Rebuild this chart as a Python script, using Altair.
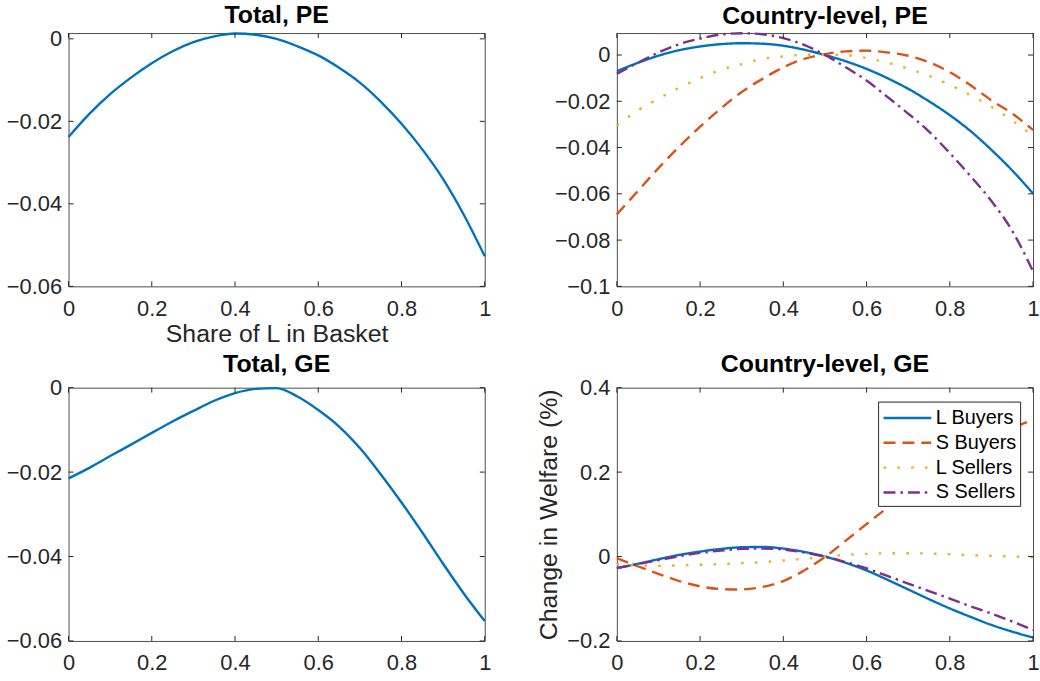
import altair as alt
import pandas as pd

# ---------------- data ----------------
x_share = [0.0, 0.05, 0.1, 0.15, 0.2, 0.25, 0.3, 0.35, 0.4, 0.45, 0.5,
           0.55, 0.6, 0.65, 0.7, 0.75, 0.8, 0.85, 0.9, 0.95, 1.0]

total_pe = [-0.0238, -0.0182, -0.0134, -0.0094, -0.0059, -0.0030, -0.0008, 0.0006, 0.0013, 0.0010, 0.0000,
            -0.0018, -0.0040, -0.0070, -0.0106, -0.0152, -0.0206, -0.0268, -0.0340, -0.0427, -0.0527]

total_ge = [-0.0215, -0.0190, -0.0162, -0.0135, -0.0107, -0.0080, -0.0055, -0.0031, -0.0013, -0.0003, -0.0001,
            -0.0021, -0.0053, -0.0092, -0.0143, -0.0205, -0.0272, -0.0343, -0.0417, -0.0488, -0.0553]

series_names = ["L Buyers", "S Buyers", "L Sellers", "S Sellers"]

pe_l_buyers = [-0.0070, -0.0034, -0.0003, 0.0021, 0.0037, 0.0047, 0.0051, 0.0049, 0.0040, 0.0023, 0.0000,
               -0.0027, -0.0060, -0.0100, -0.0146, -0.0200, -0.0260, -0.0329, -0.0410, -0.0499, -0.0599]
pe_s_buyers = [-0.0689, -0.0589, -0.0489, -0.0396, -0.0310, -0.0231, -0.0160, -0.0103, -0.0053, -0.0017, 0.0004,
               0.0016, 0.0019, 0.0011, -0.0003, -0.0031, -0.0074, -0.0131, -0.0196, -0.0253, -0.0324]
pe_l_sellers = [-0.0305, -0.0240, -0.0189, -0.0141, -0.0100, -0.0064, -0.0039, -0.0017, -0.0006, 0.0001, 0.0001,
                -0.0001, -0.0013, -0.0033, -0.0059, -0.0090, -0.0129, -0.0174, -0.0224, -0.0283, -0.0350]
pe_s_sellers = [-0.0081, -0.0034, 0.0011, 0.0047, 0.0071, 0.0089, 0.0094, 0.0090, 0.0073, 0.0044, 0.0000,
                -0.0053, -0.0110, -0.0181, -0.0253, -0.0331, -0.0424, -0.0524, -0.0631, -0.0760, -0.0935]

ge_l_buyers = [-0.0274, -0.0173, -0.0063, 0.0039, 0.0118, 0.0180, 0.0220, 0.0227, 0.0188, 0.0110, 0.0000,
               -0.0149, -0.0330, -0.0550, -0.0780, -0.1010, -0.1230, -0.1430, -0.1620, -0.1780, -0.1920]
ge_s_buyers = [-0.0040, -0.0230, -0.0410, -0.0580, -0.0706, -0.0770, -0.0780, -0.0720, -0.0580, -0.0330, -0.0010,
               0.0376, 0.0770, 0.1160, 0.1570, 0.1950, 0.2300, 0.2600, 0.2850, 0.3050, 0.3240]
ge_l_sellers = [-0.0190, -0.0210, -0.0220, -0.0210, -0.0196, -0.0180, -0.0157, -0.0133, -0.0094, -0.0055, 0.0000,
                0.0039, 0.0063, 0.0078, 0.0078, 0.0070, 0.0055, 0.0031, 0.0016, 0.0000, -0.0016]
ge_s_sellers = [-0.0274, -0.0180, -0.0086, 0.0008, 0.0086, 0.0140, 0.0180, 0.0188, 0.0165, 0.0094, 0.0000,
                -0.0133, -0.0280, -0.0460, -0.0640, -0.0820, -0.0996, -0.1180, -0.1350, -0.1540, -0.1740]

x_ticks = [0, 0.2, 0.4, 0.6, 0.8, 1]
y_ticks_total = [-0.06, -0.04, -0.02, 0]
y_ticks_pe = [-0.1, -0.08, -0.06, -0.04, -0.02, 0]
y_ticks_ge = [-0.2, 0, 0.2, 0.4]

# ---------------- style ----------------
FONT = "Liberation Sans"
W, H = 419, 255
TICK_LEN = 5
AX_COLOR = "#262626"
BOX_COLOR = "#4d4d4d"
colors = ["#0072BD", "#D95319", "#EDB120", "#7E2F8E"]
dashes = [[1, 0], [12, 7], [2.6, 11.3], [12, 5, 2.5, 5]]
widths = [2.4, 2.4, 3, 2.4]
LABEL_FMT = "~g"


def single_df(vals):
    return pd.DataFrame({"x": x_share, "y": vals})


def multi_df(lists):
    rows = []
    for name, vals in zip(series_names, lists):
        for xv, yv in zip(x_share, vals):
            rows.append({"x": xv, "y": yv, "series": name})
    return pd.DataFrame(rows)


def make_axis(values, title, label_pad, title_pad):
    return alt.Axis(values=values, format=LABEL_FMT, title=title, grid=False, domain=False,
                    ticks=False, labelPadding=label_pad, labelFontSize=22, labelFont=FONT,
                    labelColor=AX_COLOR, titleFontSize=25, titleFont=FONT, titleFontWeight="normal",
                    titleColor=AX_COLOR, titlePadding=title_pad, labelFlush=False)


def panel(df, title, ydom, yticks, multi=False, xtitle=None, ytitle=None, legend=None):
    xs = alt.Scale(domain=[0, 1], nice=False, zero=False)
    ys = alt.Scale(domain=ydom, nice=False, zero=False)
    xaxis = make_axis(x_ticks, xtitle, 12, 3)
    yaxis = make_axis(yticks, ytitle, 7, 5)
    base = alt.Chart(df)
    if multi:
        line = base.mark_line(strokeCap="butt", interpolate="monotone").encode(
            x=alt.X("x:Q", scale=xs, axis=xaxis),
            y=alt.Y("y:Q", scale=ys, axis=yaxis),
            color=alt.Color("series:N", scale=alt.Scale(domain=series_names, range=colors), legend=legend),
            strokeDash=alt.StrokeDash("series:N", scale=alt.Scale(domain=series_names, range=dashes),
                                      legend=legend),
            strokeWidth=alt.StrokeWidth("series:N", scale=alt.Scale(domain=series_names, range=widths),
                                        legend=None),
            detail="series:N",
        )
    else:
        line = base.mark_line(strokeWidth=2.4, color=colors[0], interpolate="monotone").encode(
            x=alt.X("x:Q", scale=xs, axis=xaxis),
            y=alt.Y("y:Q", scale=ys, axis=yaxis),
        )
    xt = alt.Chart(pd.DataFrame({"t": x_ticks}))
    yt = alt.Chart(pd.DataFrame({"t": yticks}))
    tick_style = dict(color=AX_COLOR, strokeWidth=1)
    bottom = xt.mark_rule(**tick_style).encode(
        x=alt.X("t:Q", scale=xs, axis=xaxis), y=alt.value(H), y2=alt.value(H - TICK_LEN))
    top = xt.mark_rule(**tick_style).encode(
        x=alt.X("t:Q", scale=xs, axis=xaxis), y=alt.value(0), y2=alt.value(TICK_LEN))
    left = yt.mark_rule(**tick_style).encode(
        y=alt.Y("t:Q", scale=ys, axis=yaxis), x=alt.value(0), x2=alt.value(TICK_LEN))
    right = yt.mark_rule(**tick_style).encode(
        y=alt.Y("t:Q", scale=ys, axis=yaxis), x=alt.value(W), x2=alt.value(W - TICK_LEN))
    return alt.layer(line, bottom, top, left, right).properties(
        width=W, height=H,
        title=alt.TitleParams(title, fontSize=25, font=FONT, fontWeight="bold", color="black",
                              offset=0, anchor="middle"),
    )


legend_cfg = alt.Legend(title=None, orient="none", legendX=263, legendY=14,
                        symbolType="M-2,0H2", symbolSize=576, symbolStrokeWidth=2.4,
                        symbolOffset=13, labelOffset=15,
                        labelFontSize=20, labelFont=FONT, labelColor="black",
                        strokeColor=AX_COLOR, fillColor="white", padding=3,
                        rowPadding=1, cornerRadius=0)

tl = panel(single_df(total_pe), "Total, PE", [-0.06, 0.0014], y_ticks_total, xtitle="Share of L in Basket")
tr = panel(multi_df([pe_l_buyers, pe_s_buyers, pe_l_sellers, pe_s_sellers]), "Country-level, PE",
           [-0.1, 0.0095], y_ticks_pe, multi=True, legend=None)
bl = panel(single_df(total_ge), "Total, GE", [-0.06, 0.0], y_ticks_total)
br = panel(multi_df([ge_l_buyers, ge_s_buyers, ge_l_sellers, ge_s_sellers]), "Country-level, GE",
           [-0.2, 0.4], y_ticks_ge, multi=True, ytitle="Change in Welfare (%)", legend=legend_cfg)

chart = alt.concat(tl, tr, bl, br, columns=2, spacing={"row": 3, "column": 45}).resolve_scale(
    color="independent", strokeDash="independent", strokeWidth="independent"
).properties(
    padding={"left": 5, "top": 0, "right": 0, "bottom": 0},
    background="white",
).configure_view(
    stroke=BOX_COLOR, strokeWidth=1
)

chart.save("out.html", embed_options={"renderer": "svg", "actions": False})
